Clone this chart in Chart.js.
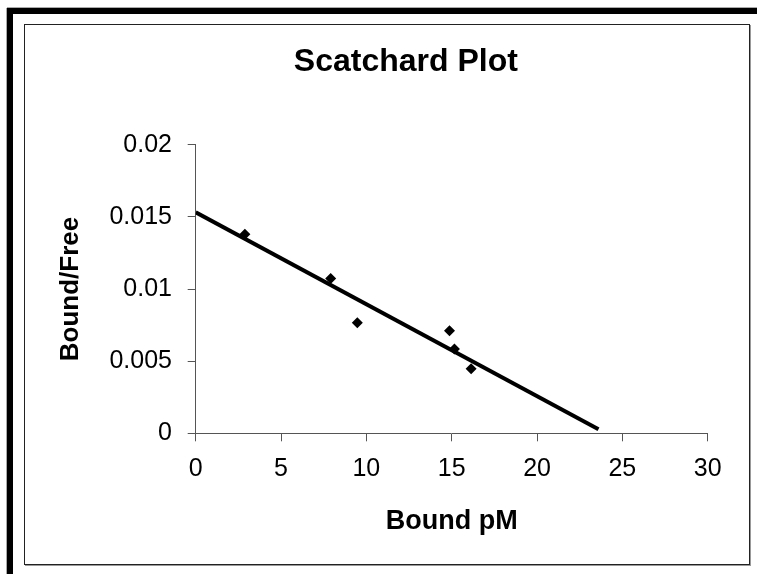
<!DOCTYPE html>
<html>
<head>
<meta charset="utf-8">
<script src="https://cdn.jsdelivr.net/npm/chart.js@4.4.1/dist/chart.umd.min.js"></script>
<style>
  html, body { margin: 0; padding: 0; background: #fff; overflow: hidden; }
  #wrap { position: relative; width: 757px; height: 574px; }
  .band { position: absolute; background: #000; }
  #bandTop { left: 7px; top: 8px; width: 750px; height: 6px; box-shadow: 0 -1px 0 #aaa; }
  #bandLeft { left: 7px; top: 8px; width: 6px; height: 566px; box-shadow: -1px 0 0 #aaa; }
  #inner { position: absolute; left: 24px; top: 24px; width: 724px; height: 539px; border: 1px solid #222; box-shadow: 1px 1px 0 #999; }
  canvas { position: absolute; left: 0; top: 0; }
</style>
</head>
<body>
<div id="wrap">
  <div class="band" id="bandTop"></div>
  <div class="band" id="bandLeft"></div>
  <div id="inner"></div>
  <canvas id="c" width="757" height="574"></canvas>
</div>
<script>
// Data
const boundPM   = [2.88, 7.91, 9.47, 14.87, 15.16, 16.14];
const boundFree = [0.0138, 0.01072, 0.00766, 0.0071, 0.00585, 0.00447];
const trendX = [0, 23.6];
const trendY = [0.01532, 0.00028];
const xTickLabels = ['0', '5', '10', '15', '20', '25', '30'];
const yTickLabels = ['0', '0.005', '0.01', '0.015', '0.02'];

const FONT = '"Liberation Sans", Arial, sans-serif';
const AXIS = '#555';

const pts = boundPM.map((x, i) => ({ x: x, y: boundFree[i] }));
const trend = trendX.map((x, i) => ({ x: x, y: trendY[i] }));

new Chart(document.getElementById('c'), {
  type: 'scatter',
  data: {
    datasets: [
      {
        label: 'Bound/Free',
        data: pts,
        pointStyle: 'rectRot',
        pointRadius: 5.5,
        pointHoverRadius: 5.5,
        backgroundColor: '#000',
        borderColor: '#000',
        borderWidth: 0,
        order: 1
      },
      {
        label: 'Linear fit',
        type: 'line',
        data: trend,
        showLine: true,
        borderColor: '#000',
        borderWidth: 4,
        pointRadius: 0,
        fill: false,
        order: 2
      }
    ]
  },
  options: {
    responsive: false,
    devicePixelRatio: 1,
    animation: false,
    events: [],
    layout: { padding: { left: 104, right: 49.3, top: 42.8, bottom: 0 } },
    plugins: {
      legend: { display: false },
      tooltip: { enabled: false },
      title: {
        display: true,
        text: 'Scatchard Plot',
        color: '#000',
        font: { family: FONT, size: 32, weight: 'bold', lineHeight: 1.2 },
        padding: { top: 0, bottom: 63.5 }
      }
    },
    scales: {
      x: {
        type: 'linear',
        min: 0, max: 30,
        afterFit: (s) => { s.height = 140.7; },
        ticks: {
          stepSize: 5,
          color: '#000',
          padding: 14.9,
          maxRotation: 0,
          font: { family: FONT, size: 25, lineHeight: 1 },
          callback: (v, i) => xTickLabels[i]
        },
        grid: { display: true, drawOnChartArea: false, drawTicks: true, tickLength: 8, color: AXIS, lineWidth: 1 },
        border: { display: true, color: AXIS, width: 1 },
        title: {
          display: true,
          text: 'Bound pM',
          color: '#000',
          font: { family: FONT, size: 27, weight: 'bold', lineHeight: 1.2 },
          padding: { top: 0, bottom: 35.8 }
        }
      },
      y: {
        type: 'linear',
        min: 0, max: 0.02,
        afterFit: (s) => { s.width = 91.7; },
        ticks: {
          stepSize: 0.005,
          color: '#000',
          padding: 15.7,
          font: { family: FONT, size: 25, lineHeight: 1 },
          callback: (v, i) => yTickLabels[i]
        },
        grid: { display: true, drawOnChartArea: false, drawTicks: true, tickLength: 8, color: AXIS, lineWidth: 1 },
        border: { display: true, color: AXIS, width: 1 },
        title: {
          display: true,
          text: 'Bound/Free',
          color: '#000',
          font: { family: FONT, size: 26, weight: 'bold', lineHeight: 1.2 },
          padding: { top: -48.6, bottom: 0 }
        }
      }
    }
  }
});
</script>
</body>
</html>
